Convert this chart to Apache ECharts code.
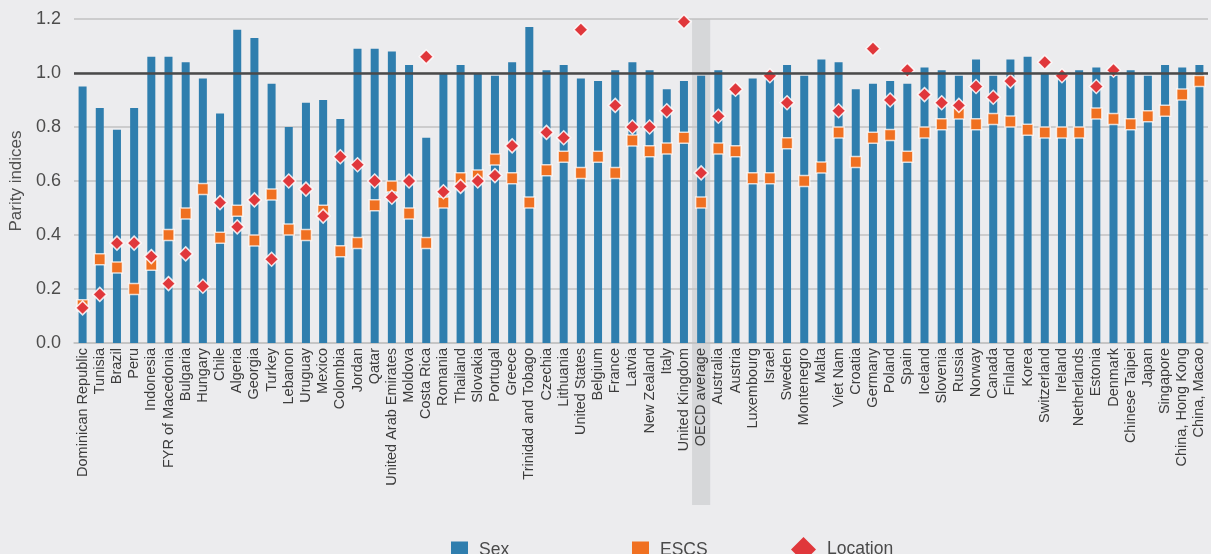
<!DOCTYPE html>
<html>
<head>
<meta charset="utf-8">
<script src="https://cdn.jsdelivr.net/npm/echarts@6/dist/echarts.min.js"></script>
<style>
  html, body { margin: 0; padding: 0; background: #ececee; }
  #main { width: 1211px; height: 554px; }
</style>
</head>
<body>
<div id="main"></div>
<script>
const categories = [
  'Dominican Republic', 'Tunisia', 'Brazil', 'Peru', 'Indonesia', 'FYR of Macedonia',
  'Bulgaria', 'Hungary', 'Chile', 'Algeria', 'Georgia', 'Turkey', 'Lebanon', 'Uruguay',
  'Mexico', 'Colombia', 'Jordan', 'Qatar', 'United Arab Emirates', 'Moldova', 'Costa Rica',
  'Romania', 'Thailand', 'Slovakia', 'Portugal', 'Greece', 'Trinidad and Tobago', 'Czechia',
  'Lithuania', 'United States', 'Belgium', 'France', 'Latvia', 'New Zealand', 'Italy',
  'United Kingdom', 'OECD average', 'Australia', 'Austria', 'Luxembourg', 'Israel', 'Sweden',
  'Montenegro', 'Malta', 'Viet Nam', 'Croatia', 'Germany', 'Poland', 'Spain', 'Iceland',
  'Slovenia', 'Russia', 'Norway', 'Canada', 'Finland', 'Korea', 'Switzerland', 'Ireland',
  'Netherlands', 'Estonia', 'Denmark', 'Chinese Taipei', 'Japan', 'Singapore',
  'China, Hong Kong', 'China, Macao'
];

const sexValues = [
  0.95, 0.87, 0.79, 0.87, 1.06, 1.06, 1.04, 0.98, 0.85, 1.16, 1.13, 0.96, 0.80, 0.89,
  0.90, 0.83, 1.09, 1.09, 1.08, 1.03, 0.76, 1.00, 1.03, 1.00, 0.99, 1.04, 1.17, 1.01,
  1.03, 0.98, 0.97, 1.01, 1.04, 1.01, 0.94, 0.97, 0.99, 1.01, 0.92, 0.98, 0.98, 1.03,
  0.99, 1.05, 1.04, 0.94, 0.96, 0.97, 0.96, 1.02, 1.01, 0.99, 1.05, 0.99, 1.05, 1.06,
  1.00, 0.98, 1.01, 1.02, 0.99, 1.01, 0.99, 1.03, 1.02, 1.03
];

const escsValues = [
  0.14, 0.31, 0.28, 0.20, 0.29, 0.40, 0.48, 0.57, 0.39, 0.49, 0.38, 0.55, 0.42, 0.40,
  0.49, 0.34, 0.37, 0.51, 0.58, 0.48, 0.37, 0.52, 0.61, 0.62, 0.68, 0.61, 0.52, 0.64,
  0.69, 0.63, 0.69, 0.63, 0.75, 0.71, 0.72, 0.76, 0.52, 0.72, 0.71, 0.61, 0.61, 0.74,
  0.60, 0.65, 0.78, 0.67, 0.76, 0.77, 0.69, 0.78, 0.81, 0.85, 0.81, 0.83, 0.82, 0.79,
  0.78, 0.78, 0.78, 0.85, 0.83, 0.81, 0.84, 0.86, 0.92, 0.97
];

const locationValues = [
  0.13, 0.18, 0.37, 0.37, 0.32, 0.22, 0.33, 0.21, 0.52, 0.43, 0.53, 0.31, 0.60, 0.57,
  0.47, 0.69, 0.66, 0.60, 0.54, 0.60, 1.06, 0.56, 0.58, 0.60, 0.62, 0.73, null, 0.78,
  0.76, 1.16, null, 0.88, 0.80, 0.80, 0.86, 1.19, 0.63, 0.84, 0.94, null, 0.99, 0.89,
  null, null, 0.86, null, 1.09, 0.90, 1.01, 0.92, 0.89, 0.88, 0.95, 0.91, 0.97, null,
  1.04, 0.99, null, 0.95, 1.01, null, null, null, null, null
];

const yTicks = [0, 0.2, 0.4, 0.6, 0.8, 1.0, 1.2];
const highlightCategory = 'OECD average';

const fontFamily = '"Liberation Sans", Arial, sans-serif';
const chart = echarts.init(document.getElementById('main'));

const legendBase = {
  orient: 'horizontal',
  top: 536,
  itemGap: 0,
  textStyle: { fontSize: 17.5, color: '#4a4a4a', fontFamily: fontFamily, padding: [0, 0, 0, 6] },
  itemStyle: { borderWidth: 0, opacity: 1 }
};

const option = {
  backgroundColor: '#ececee',
  animation: false,
  textStyle: { fontFamily: fontFamily },
  grid: { left: 74, right: 3, top: 19, bottom: 211, containLabel: false, outerBoundsMode: 'none' },
  legend: [
    Object.assign({}, legendBase, { left: 446, itemWidth: 17, itemHeight: 17, data: [{ name: 'Sex', icon: 'rect' }] }),
    Object.assign({}, legendBase, { left: 627, itemWidth: 17, itemHeight: 17, data: [{ name: 'ESCS', icon: 'rect' }] }),
    Object.assign({}, legendBase, { left: 786, top: 532, itemWidth: 25, itemHeight: 25, data: [{ name: 'Location', icon: 'diamond' }] })
  ],
  xAxis: {
    type: 'category',
    data: categories,
    axisTick: { show: false },
    axisLine: { show: true, lineStyle: { color: '#c2c2c2', width: 1.5 } },
    axisLabel: {
      interval: 0,
      rotate: 90,
      margin: 5,
      fontSize: 14.5,
      color: '#3c3c3c',
      fontFamily: fontFamily
    }
  },
  yAxis: {
    type: 'value',
    min: yTicks[0],
    max: yTicks[yTicks.length - 1],
    interval: 0.2,
    name: 'Parity indices',
    nameLocation: 'middle',
    nameGap: 40,
    nameTextStyle: { fontSize: 17, color: '#505050', fontFamily: fontFamily },
    axisLine: { show: false },
    axisTick: { show: false },
    axisLabel: {
      margin: 13,
      fontSize: 18,
      color: '#4d4d4d',
      fontFamily: fontFamily,
      formatter: v => v.toFixed(1)
    },
    splitLine: { lineStyle: { color: '#c2c2c2', width: 1.5 } }
  },
  series: [
    {
      name: 'ref',
      type: 'line',
      data: [],
      z: 1,
      silent: true,
      markLine: {
        silent: true,
        symbol: ['none', 'none'],
        label: { show: false },
        lineStyle: { color: '#4a4a4a', width: 2.5, type: 'solid' },
        data: [{ yAxis: 1 }]
      }
    },
    {
      name: 'Sex',
      type: 'bar',
      data: sexValues,
      barWidth: 8,
      z: 2,
      itemStyle: { color: '#2f7eae' }
    },
    {
      name: 'ESCS',
      type: 'scatter',
      data: escsValues,
      symbol: 'rect',
      symbolSize: 11,
      z: 3,
      itemStyle: { color: '#f07021', opacity: 1, borderColor: 'rgba(255,255,255,0.75)', borderWidth: 1.5 }
    },
    {
      name: 'Location',
      type: 'scatter',
      data: locationValues,
      symbol: 'diamond',
      symbolSize: 14,
      z: 4,
      itemStyle: { color: '#e0373b', opacity: 1, borderColor: 'rgba(255,255,255,0.85)', borderWidth: 1.5 }
    }
  ]
};

chart.setOption(option);

// shaded band behind the OECD average column, placed through the axis scales
const idx = categories.indexOf(highlightCategory);
const cx = chart.convertToPixel({ xAxisIndex: 0 }, idx);
const step = chart.convertToPixel({ xAxisIndex: 0 }, idx + 1) - cx;
const yTop = chart.convertToPixel({ yAxisIndex: 0 }, yTicks[yTicks.length - 1]);
const yZero = chart.convertToPixel({ yAxisIndex: 0 }, 0);
chart.setOption({
  graphic: [{
    type: 'rect',
    z: -10,
    silent: true,
    shape: { x: cx - step / 2 - 0.5, y: yTop, width: step + 1, height: yZero - yTop + 162 },
    style: { fill: '#d6d7d9' }
  }]
});
</script>
</body>
</html>
